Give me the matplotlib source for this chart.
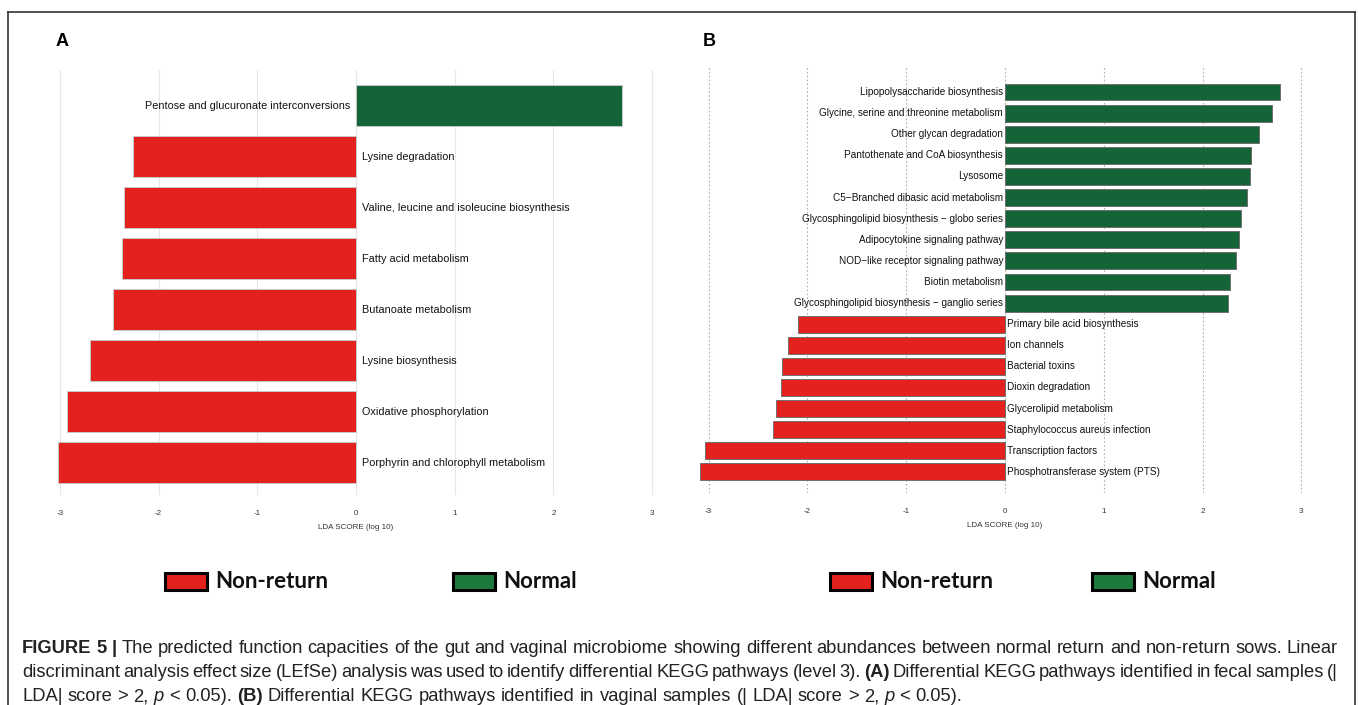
import matplotlib
matplotlib.use("Agg")
import matplotlib.pyplot as plt
from matplotlib.patches import Rectangle
from matplotlib.lines import Line2D

# ---------------- data ----------------
a_labels = ["Pentose and glucuronate interconversions", "Lysine degradation",
            "Valine, leucine and isoleucine biosynthesis", "Fatty acid metabolism",
            "Butanoate metabolism", "Lysine biosynthesis", "Oxidative phosphorylation",
            "Porphyrin and chlorophyll metabolism"]
a_values = [2.69, -2.26, -2.35, -2.37, -2.46, -2.70, -2.93, -3.02]

b_labels = ["Lipopolysaccharide biosynthesis", "Glycine, serine and threonine metabolism",
            "Other glycan degradation", "Pantothenate and CoA biosynthesis", "Lysosome",
            "C5\u2212Branched dibasic acid metabolism",
            "Glycosphingolipid biosynthesis \u2212 globo series",
            "Adipocytokine signaling pathway", "NOD\u2212like receptor signaling pathway",
            "Biotin metabolism", "Glycosphingolipid biosynthesis \u2212 ganglio series",
            "Primary bile acid biosynthesis", "Ion channels", "Bacterial toxins",
            "Dioxin degradation", "Glycerolipid metabolism", "Staphylococcus aureus infection",
            "Transcription factors", "Phosphotransferase system (PTS)"]
b_values = [2.78, 2.70, 2.57, 2.49, 2.48, 2.45, 2.39, 2.37, 2.34, 2.28, 2.26,
            -2.10, -2.20, -2.26, -2.27, -2.32, -2.35, -3.04, -3.09]

ticks = [-3, -2, -1, 0, 1, 2, 3]
legend_names = ["Non-return", "Normal"]

RED = "#E3221E"
GREEN = "#156437"
LEG_GREEN = "#1B7A3C"

W, H = 1358, 705
fig = plt.figure(figsize=(W / 100, H / 100), dpi=100)
LAB_FONT = ["Liberation Sans", "DejaVu Sans"]


def px_axes(left, right, top, bottom):
    return fig.add_axes([left / W, (H - bottom) / H, (right - left) / W, (bottom - top) / H])


def panel(ax, labels, values, ylim, label_size, edge, grid_ls, grid_col, gap):
    n = len(labels)
    ypos = [n - 1 - i for i in range(n)]
    cols = [GREEN if v > 0 else RED for v in values]
    ax.barh(ypos, values, height=0.8, color=cols, edgecolor=edge, linewidth=0.7, zorder=2)
    for y, v, lab in zip(ypos, values, labels):
        if v > 0:
            ax.text(-gap, y, lab, ha="right", va="center", fontsize=label_size,
                    family=LAB_FONT, color="#111111", zorder=3)
        else:
            ax.text(gap, y, lab, ha="left", va="center", fontsize=label_size,
                    family=LAB_FONT, color="#111111", zorder=3)
    ax.set_xlim(-3.2, 3.2)
    ax.set_ylim(*ylim)
    ax.set_xticks(ticks)
    ax.set_xticklabels([str(t) for t in ticks], fontsize=5.8, family=LAB_FONT, color="#333333")
    ax.set_yticks([])
    ax.tick_params(axis="x", length=0, pad=11)
    for s in ax.spines.values():
        s.set_visible(False)
    ax.grid(axis="x", linestyle=grid_ls, color=grid_col, linewidth=0.8, zorder=0)
    ax.set_xlabel("LDA SCORE (log 10)", fontsize=5.8, family=LAB_FONT, color="#333333",
                  labelpad=5)
    ax.patch.set_alpha(0)


# Panel A: 0 at x=356, 98.7 px/unit ; rows y 106..463 (51 px)
axA = px_axes(356 - 3.2 * 98.7, 356 + 3.2 * 98.7, 70, 495)
panel(axA, a_labels, a_values, (-0.63, 7.7), 7.8, "#c8c8c8", "-", "#e6e6e6", 0.06)

# Panel B: 0 at x=1005, 98.8 px/unit ; rows 92..472 (21.1 px)
axB = px_axes(1005 - 3.2 * 98.8, 1005 + 3.2 * 98.8, 65, 493)
panel(axB, b_labels, b_values, (-1.0, 19.28), 7.2, "#6f6f6f", (0, (1.5, 2)), "#b0b0b0", 0.02)

# panel letters
fig.text(62 / W, 1 - 42 / H, "A", fontsize=13, fontweight="bold", family="Liberation Sans",
         ha="center", va="center")
fig.text(709 / W, 1 - 42 / H, "B", fontsize=13, fontweight="bold", family="Liberation Sans",
         ha="center", va="center")

# legends
def legend_item(x_patch, text, color):
    fig.patches.append(Rectangle((x_patch / W, 1 - 590 / H), 42 / W, 17 / H, transform=fig.transFigure,
                                 facecolor=color, edgecolor="black", linewidth=2.2, figure=fig))
    fig.text((x_patch + 50) / W, 1 - 581 / H, text, fontsize=16, fontweight="bold", family="Lato",
             ha="left", va="center", color="#111111")

legend_item(165, legend_names[0], RED)
legend_item(453, legend_names[1], LEG_GREEN)
legend_item(830, legend_names[0], RED)
legend_item(1092, legend_names[1], LEG_GREEN)

# border
bc = "#333333"
fig.add_artist(Line2D([8 / W, 1355 / W], [1 - 12 / H, 1 - 12 / H], transform=fig.transFigure, color=bc, lw=1.2))
fig.add_artist(Line2D([8 / W, 8 / W], [0, 1 - 12 / H], transform=fig.transFigure, color=bc, lw=1.2))
fig.add_artist(Line2D([1355 / W, 1355 / W], [0, 1 - 12 / H], transform=fig.transFigure, color=bc, lw=1.2))

# caption
renderer = fig.canvas.get_renderer()
CAP = 13.2
CAP_FONT = "Liberation Sans"


def measure(s, weight, style):
    t = fig.text(0, 0, s, fontsize=CAP, fontweight=weight, fontstyle=style, family=CAP_FONT)
    w = t.get_window_extent(renderer).width
    t.remove()
    return w


def advance(s, weight, style):
    return measure("x" + s + "x", weight, style) - measure("xx", weight, style)


def draw_line(runs, x0, x1, base_y, justify):
    words = []
    for txt, wt, st in runs:
        parts = txt.split(" ")
        for k, p in enumerate(parts):
            if k > 0:
                words.append(None)
            if p:
                words.append((p, wt, st))
    groups = []
    cur = []
    for w in words:
        if w is None:
            if cur:
                groups.append(cur)
            cur = []
        else:
            cur.append(w)
    if cur:
        groups.append(cur)
    space = advance(" ", "normal", "normal")
    widths = [[advance(p, wt, st) for p, wt, st in g] for g in groups]
    total = sum(sum(ws) for ws in widths)
    nsp = len(groups) - 1
    if justify and nsp > 0:
        space = (x1 - x0 - total) / nsp
    x = x0
    for g, ws in zip(groups, widths):
        for (p, wt, st), w in zip(g, ws):
            fig.text(x / W, 1 - base_y / H, p, fontsize=CAP, fontweight=wt, fontstyle=st,
                     family=CAP_FONT, va="baseline", ha="left", color="#222222")
            x += w
        x += space


N, B, I = "normal", "bold", "italic"
line1 = [("FIGURE 5 |", B, N), (" The predicted function capacities of the gut and vaginal microbiome "
          "showing different abundances between normal return and non-return sows. Linear", N, N)]
line2 = [("discriminant analysis effect size (LEfSe) analysis was used to identify differential KEGG "
          "pathways (level 3). ", N, N), ("(A)", B, N),
         (" Differential KEGG pathways identified in fecal samples (|", N, N)]
line3 = [("LDA| score > 2, ", N, N), ("p", N, I), (" < 0.05). ", N, N), ("(B)", B, N),
         (" Differential KEGG pathways identified in vaginal samples (| LDA| score > 2, ", N, N),
         ("p", N, I), (" < 0.05).", N, N)]
draw_line(line1, 22, 1338, 653, True)
draw_line(line2, 22, 1338, 677, True)
draw_line(line3, 22, 1338, 701, False)

fig.savefig("out.png", dpi=100, facecolor="white")
